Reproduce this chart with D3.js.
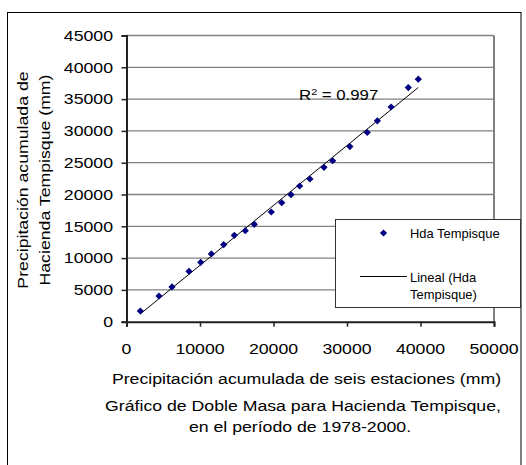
<!DOCTYPE html>
<html>
<head>
<meta charset="utf-8">
<script src="https://cdn.jsdelivr.net/npm/d3@7"></script>
<style>
  html, body { margin: 0; padding: 0; background: #fff; }
  svg { display: block; }
  text { font-family: "Liberation Sans", Arial, sans-serif; fill: #000; }
</style>
</head>
<body>
<svg id="chart" width="526" height="465"></svg>
<script>
// ---- data ----
const xSixStations = [1880, 4420, 6190, 8500, 10100, 11540, 13220, 14670, 16160, 17390,
  19700, 21120, 22380, 23560, 24960, 26870, 28050, 30390, 32760, 34130, 36000, 38340, 39700];
const yTempisque = [1680, 4040, 5460, 7920, 9340, 10650, 12110, 13580, 14310, 15310,
  17250, 18710, 19970, 21340, 22440, 24280, 25310, 27530, 29750, 31590, 33760, 36810, 38130];
const xTicks = [0, 10000, 20000, 30000, 40000, 50000];
const yTicks = [0, 5000, 10000, 15000, 20000, 25000, 30000, 35000, 40000, 45000];
const seriesName = "Hda Tempisque";
const trendName = ["Lineal (Hda", "Tempisque)"];
const r2Label = "0.997";
const xTitle = "Precipitación acumulada de seis estaciones (mm)";
const yTitle = ["Precipitación acumulada de", "Hacienda Tempisque (mm)"];
const caption = ["Gráfico de Doble Masa para Hacienda Tempisque,", "en el período de 1978-2000."];

const svg = d3.select("#chart");
const L = 126.5, R = 494, T = 35.5, B = 321.7;
const x = d3.scaleLinear().domain([0, 50000]).range([L, R]);
const y = d3.scaleLinear().domain([0, 45000]).range([B, T]);

const SX = 1.18; // horizontal stretch of the reference text
const FS = 15;
function txt(g, s, px, py, size, anchor, sx) {
  const t = g.append("text")
    .attr("transform", `translate(${px},${py}) scale(${sx || SX},1)`)
    .attr("font-size", size)
    .attr("text-anchor", anchor || "start")
    .text(s);
  return t;
}

// outer frame
svg.append("rect").attr("x", 7.5).attr("y", 12.5).attr("width", 513.5).attr("height", 470)
  .attr("fill", "none").attr("stroke", "#000").attr("stroke-width", 1);

// gridlines
svg.append("g").selectAll("line").data(yTicks.filter(d => d > 0)).join("line")
  .attr("x1", L).attr("x2", R).attr("y1", d => y(d)).attr("y2", d => y(d))
  .attr("stroke", "#808080").attr("stroke-width", 1.3);
// right plot border
svg.append("line").attr("x1", R).attr("x2", R).attr("y1", T).attr("y2", B)
  .attr("stroke", "#808080").attr("stroke-width", 2);

// axes
const xAxis = svg.append("g").attr("transform", `translate(0,${B})`)
  .call(d3.axisBottom(x).tickValues(xTicks).tickSize(5).tickFormat(""));
const yAxis = svg.append("g").attr("transform", `translate(${L},0)`)
  .call(d3.axisLeft(y).tickValues(yTicks).tickSize(5).tickFormat(""));
[xAxis, yAxis].forEach(a => {
  a.select(".domain").attr("stroke", "#222").attr("stroke-width", 2);
  a.selectAll(".tick line").attr("stroke", "#222").attr("stroke-width", 1.5);
});

// tick labels
const tl = svg.append("g");
yTicks.forEach(v => txt(tl, String(v), 113, y(v) + 5.3, FS, "end"));
xTicks.forEach(v => txt(tl, String(v), x(v), 353.5, FS, "middle"));

// trendline (least squares, as the original spreadsheet did)
const n = xSixStations.length;
const mx = d3.mean(xSixStations), my = d3.mean(yTempisque);
let sxy = 0, sxx = 0;
for (let i = 0; i < n; i++) { sxy += (xSixStations[i] - mx) * (yTempisque[i] - my); sxx += (xSixStations[i] - mx) ** 2; }
const slope = sxy / sxx, icpt = my - slope * mx;
const [x0, x1] = d3.extent(xSixStations);
svg.append("line")
  .attr("x1", x(x0)).attr("y1", y(icpt + slope * x0))
  .attr("x2", x(x1)).attr("y2", y(icpt + slope * x1))
  .attr("stroke", "#000").attr("stroke-width", 1);

// points
const diamond = "M0,-3.6L3.6,0L0,3.6L-3.6,0Z";
svg.append("g").selectAll("path").data(d3.zip(xSixStations, yTempisque)).join("path")
  .attr("transform", d => `translate(${x(d[0])},${y(d[1])})`)
  .attr("d", diamond).attr("fill", "#000080");

// R^2 label
const r2 = svg.append("text")
  .attr("transform", `translate(299,100) scale(1.2,1)`)
  .attr("font-size", 14);
r2.append("tspan").text("R");
r2.append("tspan").attr("font-size", 9).attr("dy", -5.5).text("2");
r2.append("tspan").attr("dy", 5.5).text(" = " + r2Label);

// legend
const lg = svg.append("g");
lg.append("rect").attr("x", 335.5).attr("y", 219.5).attr("width", 185).attr("height", 88)
  .attr("fill", "#fff").attr("stroke", "#333").attr("stroke-width", 1);
lg.append("path").attr("d", diamond).attr("transform", "translate(383.5,233)").attr("fill", "#000080");
txt(lg, seriesName, 410, 237.5, 12, "start", 1.08);
lg.append("line").attr("x1", 360).attr("x2", 407).attr("y1", 276.5).attr("y2", 276.5)
  .attr("stroke", "#000").attr("stroke-width", 1);
txt(lg, trendName[0], 410, 282, 12, "start", 1.08);
txt(lg, trendName[1], 410, 298.5, 12, "start", 1.08);

// axis titles
txt(svg, xTitle, 306.5, 383.5, FS, "middle");
const yt = svg.append("g");
yt.append("text").attr("transform", `translate(27.5,180) rotate(-90) scale(${SX},1)`)
  .attr("font-size", FS).attr("text-anchor", "middle").text(yTitle[0]);
yt.append("text").attr("transform", `translate(49.5,180) rotate(-90) scale(${SX},1)`)
  .attr("font-size", FS).attr("text-anchor", "middle").text(yTitle[1]);

// caption
txt(svg, caption[0], 303, 410.5, FS, "middle");
txt(svg, caption[1], 300, 432, FS, "middle");
</script>
</body>
</html>
